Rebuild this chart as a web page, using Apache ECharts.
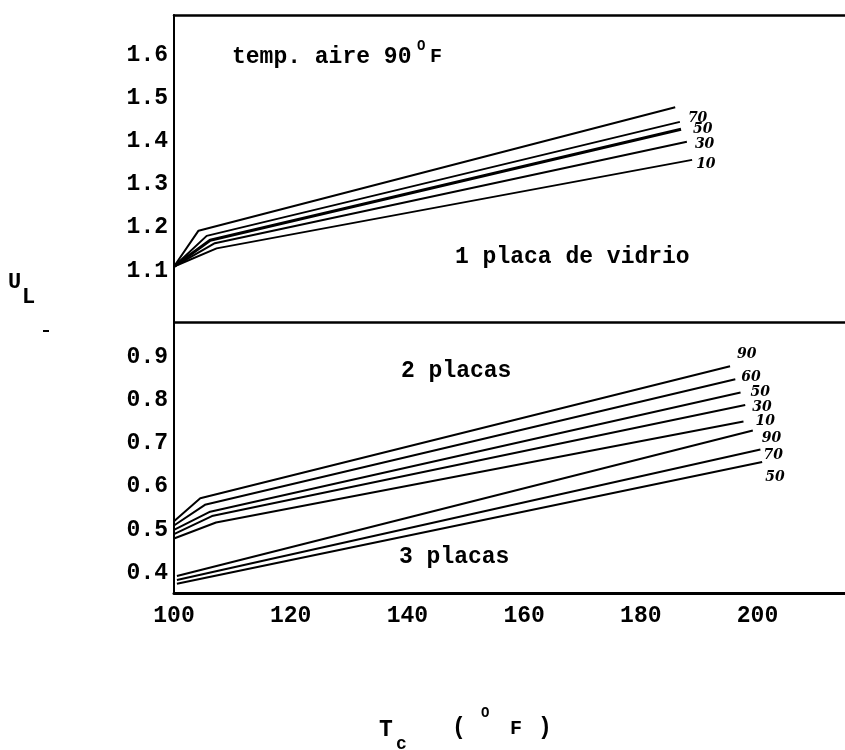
<!DOCTYPE html>
<html>
<head>
<meta charset="utf-8">
<script src="https://cdn.jsdelivr.net/npm/echarts@6/dist/echarts.min.js"></script>
<style>
  html, body { margin: 0; padding: 0; background: #fff; }
  #chart { width: 845px; height: 750px; }
</style>
</head>
<body>
<div id="chart"></div>
<script>
// Coeficiente global de pérdidas U_L frente a la temperatura de la placa T_c,
// temperatura del aire 90 °F. Cada curva: [T_c inicial, codo, T_c final].

// 1 placa de vidrio
const placa1Names = ['', '70', '50', '30', '10'];
const placa1Tc = [
  [100, 104.2, 185.9],
  [100, 105.6, 186.7],
  [100, 106.2, 186.9],
  [100, 107.0, 187.9],
  [100, 107.3, 188.8]
];
const placa1UL = [
  [1.11, 1.193, 1.479],
  [1.11, 1.181, 1.445],
  [1.11, 1.171, 1.428],
  [1.11, 1.164, 1.399],
  [1.11, 1.152, 1.357]
];

// 2 placas
const placas2Names = ['90', '60', '50', '30', '10'];
const placas2Tc = [
  [100, 104.5, 195.3],
  [100, 105.3, 196.2],
  [100, 106.2, 197.1],
  [100, 106.5, 197.9],
  [100, 107.2, 197.6]
];
const placas2UL = [
  [0.52, 0.573, 0.879],
  [0.51, 0.558, 0.849],
  [0.50, 0.542, 0.818],
  [0.49, 0.532, 0.789],
  [0.48, 0.517, 0.751]
];

// 3 placas
const placas3Names = ['90', '70', '50'];
const placas3Tc = [
  [100.5, 199.2],
  [100.5, 200.5],
  [100.5, 200.8]
];
const placas3UL = [
  [0.393, 0.730],
  [0.384, 0.686],
  [0.375, 0.657]
];

// Ejes
const xTicks = [100, 120, 140, 160, 180, 200];
const yTicks = [0.4, 0.5, 0.6, 0.7, 0.8, 0.9, 1.1, 1.2, 1.3, 1.4, 1.5, 1.6];
const ulDivider = 0.981;   // separación entre paneles

// Desplazamiento de los rótulos manuscritos al final de cada curva
const placa1LabelOffset = [[0, 0], [8, -4], [12, 0], [8, 3], [4, 4]];
const placas2LabelOffset = [[7, -12], [6, -2], [10, 0], [7, 2], [12, 0]];
const placas3LabelOffset = [[9, 8], [3, 6], [3, 15]];

const MONO = "'Liberation Mono', 'DejaVu Sans Mono', monospace";
const HAND = "'DejaVu Serif', serif";

function buildSeries(names, tcs, uls, offsets, widths) {
  return names.map((name, i) => ({
    type: 'line',
    name: name || ('curva' + i),
    data: tcs[i].map((t, k) => [t, uls[i][k]]),
    symbol: 'none',
    silent: true,
    lineStyle: { color: '#000', width: widths ? widths[i] : 2 },
    endLabel: {
      show: name !== '',
      formatter: name,
      distance: 0,
      offset: offsets[i],
      color: '#000',
      fontFamily: HAND,
      fontStyle: 'italic',
      fontWeight: 'bold',
      fontSize: 14
    }
  }));
}

const series = [].concat(
  buildSeries(placa1Names, placa1Tc, placa1UL, placa1LabelOffset, [2, 2, 3, 2, 2]),
  buildSeries(placas2Names, placas2Tc, placas2UL, placas2LabelOffset),
  buildSeries(placas3Names, placas3Tc, placas3UL, placas3LabelOffset)
);

series[0].markLine = {
  silent: true,
  symbol: ['none', 'none'],
  label: { show: false },
  lineStyle: { color: '#000', type: 'solid', width: 2.5 },
  data: [{ yAxis: ulDivider }]
};

const chart = echarts.init(document.getElementById('chart'), null, { renderer: 'canvas' });

const xMin = 100, xMax = 215;

const option = {
  animation: false,
  backgroundColor: '#fff',
  grid: {
    left: 174, right: 0, top: 15, bottom: 157,
    outerBoundsMode: 'none',
    show: false
  },
  xAxis: [
    {
      type: 'value', position: 'bottom',
      min: xMin, max: xMax, interval: 20,
      axisLine: { show: true, lineStyle: { color: '#000', width: 3 } },
      axisTick: { show: false },
      splitLine: { show: false },
      axisLabel: {
        color: '#000', fontFamily: MONO, fontWeight: 'bold', fontSize: 23, margin: 12,
        formatter: v => (xTicks.indexOf(v) >= 0 ? String(v) : '')
      }
    },
    {
      // borde superior del gráfico
      type: 'value', position: 'top',
      min: xMin, max: xMax,
      axisLine: { show: true, lineStyle: { color: '#000', width: 2.5 } },
      axisTick: { show: false },
      axisLabel: { show: false },
      splitLine: { show: false }
    }
  ],
  yAxis: {
    type: 'value',
    min: 0.3537, max: 1.6926,
    axisLine: { show: true, lineStyle: { color: '#000', width: 2 } },
    axisTick: { show: false },
    splitLine: { show: false },
    axisLabel: {
      customValues: yTicks,
      color: '#000', fontFamily: MONO, fontWeight: 'bold', fontSize: 23, margin: 6,
      formatter: v => v.toFixed(1)
    }
  },
  series: series,
  graphic: [
    // rótulos de los paneles
    { type: 'text', left: 232, top: 46, style: { text: 'temp. aire 90', font: "bold 23px " + MONO, fill: '#000' } },
    { type: 'text', left: 417, top: 39, style: { text: 'O', font: "bold 14px " + MONO, fill: '#000' } },
    { type: 'text', left: 430, top: 47, style: { text: 'F', font: "bold 20px " + MONO, fill: '#000' } },
    { type: 'text', left: 455, top: 246, style: { text: '1 placa de vidrio', font: "bold 23px " + MONO, fill: '#000' } },
    { type: 'text', left: 401, top: 360, style: { text: '2 placas', font: "bold 23px " + MONO, fill: '#000' } },
    { type: 'text', left: 399, top: 546, style: { text: '3 placas', font: "bold 23px " + MONO, fill: '#000' } },
    // título del eje y
    { type: 'text', left: 8, top: 271, style: { text: 'U', font: "bold 22px " + MONO, fill: '#000' } },
    { type: 'text', left: 22, top: 286, style: { text: 'L', font: "bold 22px " + MONO, fill: '#000' } },
    { type: 'rect', shape: { x: 43, y: 330, width: 6, height: 2 }, style: { fill: '#000' } },
    // título del eje x
    { type: 'text', left: 379, top: 719, style: { text: 'T', font: "bold 23px " + MONO, fill: '#000' } },
    { type: 'text', left: 396, top: 735, style: { text: 'c', font: "bold 18px " + MONO, fill: '#000' } },
    { type: 'text', left: 452, top: 717, style: { text: '(', font: "bold 23px " + MONO, fill: '#000' } },
    { type: 'text', left: 481, top: 706, style: { text: 'O', font: "bold 14px " + MONO, fill: '#000' } },
    { type: 'text', left: 510, top: 719, style: { text: 'F', font: "bold 20px " + MONO, fill: '#000' } },
    { type: 'text', left: 538, top: 717, style: { text: ')', font: "bold 23px " + MONO, fill: '#000' } }
  ]
};

chart.setOption(option);
</script>
</body>
</html>
